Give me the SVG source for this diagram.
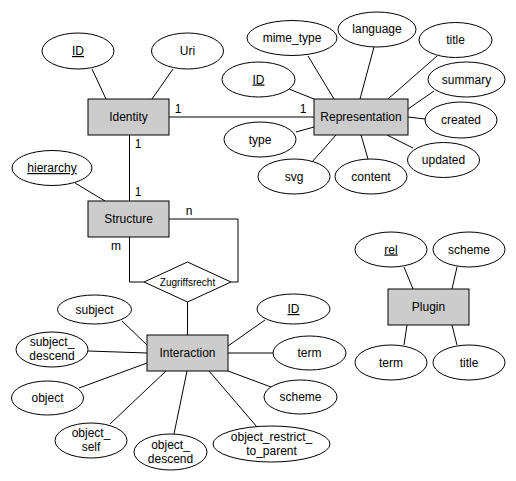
<svg xmlns="http://www.w3.org/2000/svg" width="516" height="481" viewBox="0 0 516 481">
<style>
text{font-family:"Liberation Sans",Arial,Helvetica,sans-serif;font-size:12px;fill:#000;text-anchor:middle}
.u{text-decoration:underline}
.s{font-size:10px}
.l{text-anchor:start}
ellipse{fill:#fff;stroke:#000;stroke-width:1}
rect{fill:#ccc;stroke:#000;stroke-width:1}
polygon{fill:#fff;stroke:#000;stroke-width:1}
#connectors line,#connectors polyline{stroke:#000;stroke-width:1;fill:none}
</style>
<rect x="0" y="0" width="516" height="481" style="fill:#fff;stroke:none"/>
<g id="connectors">
<line x1="92" y1="69" x2="106" y2="99"/>
<line x1="173" y1="69" x2="152" y2="99"/>
<line x1="169" y1="117" x2="314" y2="117"/>
<line x1="129.5" y1="135" x2="129.5" y2="201"/>
<line x1="75" y1="183" x2="105" y2="201"/>
<polyline points="169,219 238,219 238,282 231,282"/>
<polyline points="129.5,237 129.5,282 144,282"/>
<line x1="187.5" y1="302" x2="187.5" y2="335"/>
<line x1="308" y1="56" x2="334" y2="99"/>
<line x1="374" y1="47" x2="360" y2="99"/>
<line x1="437" y1="56" x2="388" y2="99"/>
<line x1="289" y1="89" x2="314" y2="99"/>
<line x1="434" y1="91" x2="408" y2="109"/>
<line x1="425" y1="119" x2="408" y2="117"/>
<line x1="296" y1="132" x2="314" y2="127"/>
<line x1="413" y1="148" x2="387" y2="135"/>
<line x1="312" y1="162" x2="336" y2="135"/>
<line x1="368" y1="159" x2="361" y2="135"/>
<line x1="122" y1="321" x2="147" y2="345"/>
<line x1="88" y1="351" x2="147" y2="353"/>
<line x1="79" y1="388" x2="147" y2="363"/>
<line x1="110" y1="424" x2="166" y2="371"/>
<line x1="174" y1="434" x2="187" y2="371"/>
<line x1="257" y1="427" x2="209" y2="371"/>
<line x1="265" y1="320" x2="228" y2="346"/>
<line x1="273" y1="353" x2="228" y2="353"/>
<line x1="271" y1="387" x2="228" y2="371"/>
<line x1="404" y1="267" x2="413" y2="289"/>
<line x1="457" y1="267" x2="452" y2="289"/>
<line x1="404" y1="345" x2="407" y2="325"/>
<line x1="457" y1="345" x2="452" y2="325"/>
</g>
<g id="labels">
<text x="178" y="113">1</text>
<text x="303" y="113">1</text>
<text x="138" y="148">1</text>
<text x="138" y="196">1</text>
<text x="189" y="215">n</text>
<text x="116" y="250">m</text>
</g>
<g id="Identity"><rect x="88" y="99" width="81" height="36"/><text x="128.5" y="121">Identity</text></g>
<g id="Identity_ID"><ellipse cx="78" cy="51" rx="36" ry="18"/><text class="u" x="78" y="55">ID</text></g>
<g id="Identity_Uri"><ellipse cx="187.5" cy="51" rx="36" ry="18"/><text x="187.5" y="55">Uri</text></g>
<g id="Structure"><rect x="88" y="201" width="81" height="36"/><text x="128.5" y="223">Structure</text></g>
<g id="Structure_hierarchy"><ellipse cx="52" cy="168" rx="40" ry="17.5"/><text class="u" x="52" y="172">hierarchy</text></g>
<g id="Zugriffsrecht"><polygon points="144,282 187.5,262 231,282 187.5,302"/><text class="s" x="187.5" y="285.5">Zugriffsrecht</text></g>
<g id="Representation"><rect x="314" y="99" width="94" height="36"/><text x="361" y="121">Representation</text></g>
<g id="Rep_mime_type"><ellipse cx="292" cy="38" rx="45" ry="17.5"/><text x="292" y="42">mime_type</text></g>
<g id="Rep_language"><ellipse cx="377" cy="29.5" rx="39" ry="17.5"/><text x="377" y="33">language</text></g>
<g id="Rep_title"><ellipse cx="455.5" cy="40" rx="36.5" ry="17.5"/><text x="455.5" y="44">title</text></g>
<g id="Rep_ID"><ellipse cx="258.5" cy="79.5" rx="36.5" ry="17.5"/><text class="u" x="258.5" y="83.5">ID</text></g>
<g id="Rep_summary"><ellipse cx="466.5" cy="79.5" rx="38.5" ry="17.5"/><text x="466.5" y="83.5">summary</text></g>
<g id="Rep_created"><ellipse cx="461" cy="120" rx="36" ry="18"/><text x="461" y="124">created</text></g>
<g id="Rep_type"><ellipse cx="260" cy="139.5" rx="36" ry="17.5"/><text x="260" y="143.5">type</text></g>
<g id="Rep_updated"><ellipse cx="443.5" cy="160" rx="36" ry="17.5"/><text x="443.5" y="164">updated</text></g>
<g id="Rep_svg"><ellipse cx="294" cy="176.5" rx="36" ry="17.5"/><text x="294" y="180.5">svg</text></g>
<g id="Rep_content"><ellipse cx="371" cy="176.5" rx="36" ry="17.5"/><text x="371" y="180.5">content</text></g>
<g id="Interaction"><rect x="147" y="335" width="81" height="36"/><text x="187.5" y="357">Interaction</text></g>
<g id="Int_subject"><ellipse cx="94.5" cy="309.5" rx="37" ry="14.5"/><text x="94.5" y="313.5">subject</text></g>
<g id="Int_subject_descend"><ellipse cx="52" cy="349.5" rx="36" ry="17.5"/><text x="52" y="346">subject_</text><text x="52" y="360">descend</text></g>
<g id="Int_object"><ellipse cx="47.5" cy="398" rx="36" ry="17"/><text x="47.5" y="402">object</text></g>
<g id="Int_object_self"><ellipse cx="91" cy="440.5" rx="36" ry="17.5"/><text x="91" y="437">object_</text><text x="91" y="451">self</text></g>
<g id="Int_object_descend"><ellipse cx="170.5" cy="452" rx="36.5" ry="18"/><text x="170.5" y="449">object_</text><text x="170.5" y="463">descend</text></g>
<g id="Int_object_restrict"><ellipse cx="271.5" cy="444" rx="58.5" ry="18"/><text x="271.5" y="441">object_restrict_</text><text x="271.5" y="455">to_parent</text></g>
<g id="Int_ID"><ellipse cx="293.5" cy="309" rx="36.5" ry="15"/><text class="u" x="293.5" y="313">ID</text></g>
<g id="Int_term"><ellipse cx="309.5" cy="353" rx="36.5" ry="17"/><text x="309.5" y="357">term</text></g>
<g id="Int_scheme"><ellipse cx="300.5" cy="397" rx="36.5" ry="17"/><text x="300.5" y="401">scheme</text></g>
<g id="Plugin"><rect x="388" y="289" width="81" height="36"/><text x="428.5" y="311">Plugin</text></g>
<g id="Plugin_rel"><ellipse cx="391" cy="249.5" rx="36" ry="17.5"/><text class="u" x="391" y="253.5">rel</text></g>
<g id="Plugin_scheme"><ellipse cx="469" cy="249.5" rx="36" ry="17.5"/><text x="469" y="253.5">scheme</text></g>
<g id="Plugin_term"><ellipse cx="391" cy="362.5" rx="36" ry="17.5"/><text x="391" y="366.5">term</text></g>
<g id="Plugin_title"><ellipse cx="469" cy="362.5" rx="36" ry="17.5"/><text x="469" y="366.5">title</text></g>
</svg>
